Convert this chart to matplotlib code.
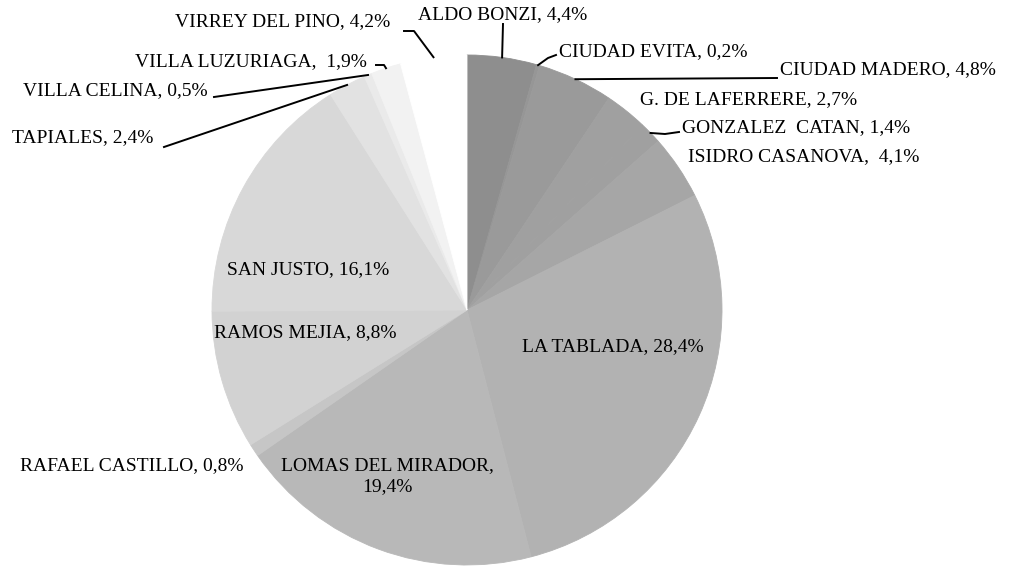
import numpy as np
import matplotlib.pyplot as plt

barrios = ['ALDO BONZI', 'CIUDAD EVITA', 'CIUDAD MADERO', 'G. DE LAFERRERE',
           'GONZALEZ  CATAN', 'ISIDRO CASANOVA', 'LA TABLADA', 'LOMAS DEL MIRADOR',
           'RAFAEL CASTILLO', 'RAMOS MEJIA', 'SAN JUSTO', 'TAPIALES',
           'VILLA CELINA', 'VILLA LUZURIAGA', 'VIRREY DEL PINO']
porcentajes = [4.4, 0.2, 4.8, 2.7, 1.4, 4.1, 28.4, 19.4,
               0.8, 8.8, 16.1, 2.4, 0.5, 1.9, 4.2]

grises = ['#8e8e8e', '#969696', '#9a9a9a', '#a0a0a0', '#a0a0a0', '#a6a6a6',
          '#b2b2b2', '#b8b8b8', '#c6c6c6', '#d2d2d2', '#d8d8d8', '#e2e2e2',
          '#eaeaea', '#f2f2f2', '#ffffff']

W, H = 1019, 570
cx, cy, r = 467, 310, 255

# posicion de cada etiqueta (pixeles desde arriba) y alineacion
pos = {
    'ALDO BONZI': (503, 15, 'center'),
    'CIUDAD EVITA': (559, 52, 'left'),
    'CIUDAD MADERO': (780, 70, 'left'),
    'G. DE LAFERRERE': (640, 100, 'left'),
    'GONZALEZ  CATAN': (682, 128, 'left'),
    'ISIDRO CASANOVA': (688, 157, 'left'),
    'LA TABLADA': (522, 347, 'left'),
    'LOMAS DEL MIRADOR': (387, 476, 'center'),
    'RAFAEL CASTILLO': (20, 466, 'left'),
    'RAMOS MEJIA': (214, 333, 'left'),
    'SAN JUSTO': (227, 270, 'left'),
    'TAPIALES': (12, 138, 'left'),
    'VILLA CELINA': (23, 91, 'left'),
    'VILLA LUZURIAGA': (135, 62, 'left'),
    'VIRREY DEL PINO': (175, 22, 'left'),
}
# lineas guia: puntos de quiebre, luego van al borde de la porcion
guias = {
    'ALDO BONZI': [(503, 24)],
    'CIUDAD EVITA': [(556, 55), (548, 58)],
    'CIUDAD MADERO': [(777, 78)],
    'GONZALEZ  CATAN': [(679, 132), (665, 134)],
    'TAPIALES': [(164, 147)],
    'VILLA CELINA': [(214, 97)],
    'VILLA LUZURIAGA': [(376, 65), (384, 65)],
    'VIRREY DEL PINO': [(404, 31), (414, 31)],
}
separacion = {'ISIDRO CASANOVA', 'VILLA LUZURIAGA'}

fig = plt.figure(figsize=(W / 100, H / 100), dpi=100)
ax = fig.add_axes([0, 0, 1, 1])

wedges, _ = ax.pie(porcentajes, colors=grises, startangle=90, counterclock=False,
                   center=(cx, H - cy), radius=r)
for w in wedges:
    w.set_edgecolor(w.get_facecolor())
    w.set_linewidth(0.6)
ax.set_xlim(0, W)
ax.set_ylim(0, H)
ax.set_aspect('equal')
ax.axis('off')

fuente = dict(family='Liberation Serif', fontsize=14, color='black')

for nombre, v, w in zip(barrios, porcentajes, wedges):
    valor = f'{v:.1f}'.replace('.', ',') + '%'
    sep = ',  ' if nombre in separacion else ', '
    if nombre == 'LOMAS DEL MIRADOR':
        texto = nombre + ',\n' + valor
    else:
        texto = nombre + sep + valor
    x, y, ha = pos[nombre]
    ax.text(x, H - y, texto, ha=ha, va='center', multialignment='center',
            linespacing=1.3, **fuente)

    if nombre in guias:
        ang = np.deg2rad((w.theta1 + w.theta2) / 2)
        borde = (cx + r * np.cos(ang), H - cy + r * np.sin(ang))
        xs = [p[0] for p in guias[nombre]] + [borde[0]]
        ys = [H - p[1] for p in guias[nombre]] + [borde[1]]
        ax.plot(xs, ys, color='black', linewidth=1.4)

fig.savefig('out.png', dpi=100)
